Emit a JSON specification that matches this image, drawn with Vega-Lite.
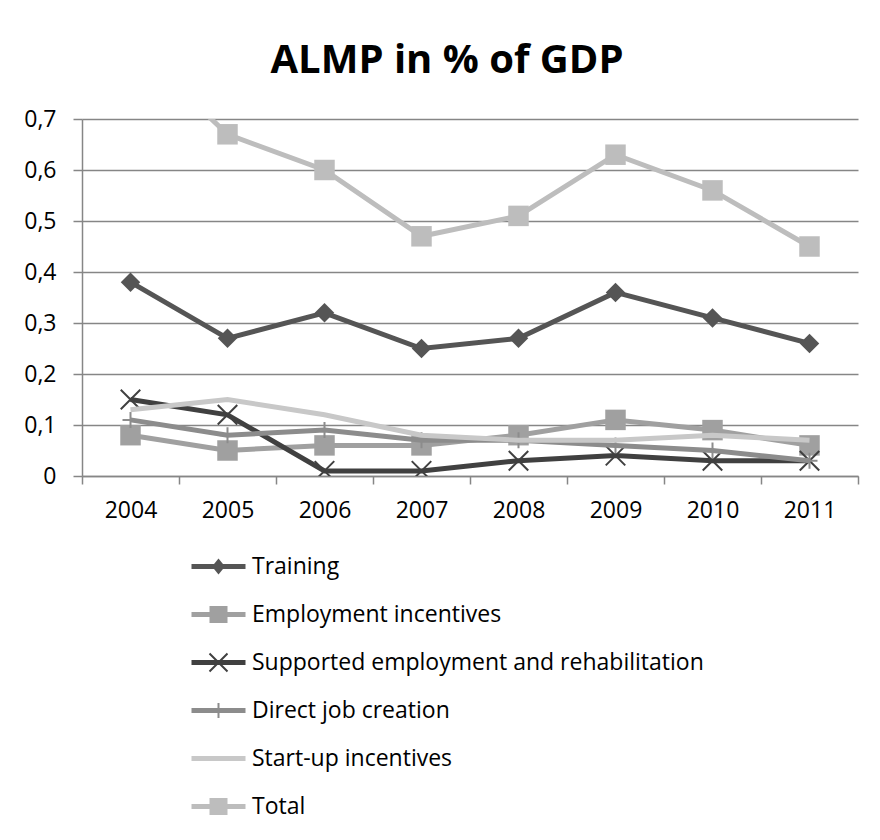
{
  "$schema": "https://vega.github.io/schema/vega-lite/v6.json",
  "width": 776,
  "height": 357,
  "autosize": {"type": "none"},
  "padding": {"left": 82, "top": 119, "right": 22, "bottom": 364},
  "background": "white",
  "title": {
    "text": "ALMP in % of GDP",
    "font": "Open Sans",
    "fontSize": 40,
    "fontWeight": "bold",
    "color": "black",
    "anchor": "middle",
    "baseline": "alphabetic",
    "offset": -5,
    "dx": -23
  },
  "data": {
    "values": [
      {"year": "2004", "series": "Training", "value": 0.38},
      {"year": "2005", "series": "Training", "value": 0.27},
      {"year": "2006", "series": "Training", "value": 0.32},
      {"year": "2007", "series": "Training", "value": 0.25},
      {"year": "2008", "series": "Training", "value": 0.27},
      {"year": "2009", "series": "Training", "value": 0.36},
      {"year": "2010", "series": "Training", "value": 0.31},
      {"year": "2011", "series": "Training", "value": 0.26},
      {"year": "2004", "series": "Employment incentives", "value": 0.08},
      {"year": "2005", "series": "Employment incentives", "value": 0.05},
      {"year": "2006", "series": "Employment incentives", "value": 0.06},
      {"year": "2007", "series": "Employment incentives", "value": 0.06},
      {"year": "2008", "series": "Employment incentives", "value": 0.08},
      {"year": "2009", "series": "Employment incentives", "value": 0.11},
      {"year": "2010", "series": "Employment incentives", "value": 0.09},
      {"year": "2011", "series": "Employment incentives", "value": 0.06},
      {"year": "2004", "series": "Supported employment and rehabilitation", "value": 0.15},
      {"year": "2005", "series": "Supported employment and rehabilitation", "value": 0.12},
      {"year": "2006", "series": "Supported employment and rehabilitation", "value": 0.01},
      {"year": "2007", "series": "Supported employment and rehabilitation", "value": 0.01},
      {"year": "2008", "series": "Supported employment and rehabilitation", "value": 0.03},
      {"year": "2009", "series": "Supported employment and rehabilitation", "value": 0.04},
      {"year": "2010", "series": "Supported employment and rehabilitation", "value": 0.03},
      {"year": "2011", "series": "Supported employment and rehabilitation", "value": 0.03},
      {"year": "2004", "series": "Direct job creation", "value": 0.11},
      {"year": "2005", "series": "Direct job creation", "value": 0.08},
      {"year": "2006", "series": "Direct job creation", "value": 0.09},
      {"year": "2007", "series": "Direct job creation", "value": 0.07},
      {"year": "2008", "series": "Direct job creation", "value": 0.07},
      {"year": "2009", "series": "Direct job creation", "value": 0.06},
      {"year": "2010", "series": "Direct job creation", "value": 0.05},
      {"year": "2011", "series": "Direct job creation", "value": 0.03},
      {"year": "2004", "series": "Start-up incentives", "value": 0.13},
      {"year": "2005", "series": "Start-up incentives", "value": 0.15},
      {"year": "2006", "series": "Start-up incentives", "value": 0.12},
      {"year": "2007", "series": "Start-up incentives", "value": 0.08},
      {"year": "2008", "series": "Start-up incentives", "value": 0.07},
      {"year": "2009", "series": "Start-up incentives", "value": 0.07},
      {"year": "2010", "series": "Start-up incentives", "value": 0.08},
      {"year": "2011", "series": "Start-up incentives", "value": 0.07},
      {"year": "2004", "series": "Total", "value": 0.85},
      {"year": "2005", "series": "Total", "value": 0.67},
      {"year": "2006", "series": "Total", "value": 0.60},
      {"year": "2007", "series": "Total", "value": 0.47},
      {"year": "2008", "series": "Total", "value": 0.51},
      {"year": "2009", "series": "Total", "value": 0.63},
      {"year": "2010", "series": "Total", "value": 0.56},
      {"year": "2011", "series": "Total", "value": 0.45}
    ]
  },
  "encoding": {
    "x": {
      "field": "year",
      "type": "ordinal",
      "scale": {"type": "band", "paddingInner": 0, "paddingOuter": 0},
      "axis": {
        "title": null,
        "tickBand": "extent",
        "labelAngle": 0,
        "grid": false,
        "domainColor": "#868686",
        "domainWidth": 1.5,
        "tickColor": "#868686",
        "tickWidth": 1.5,
        "tickSize": 8,
        "labelFont": "Open Sans",
        "labelFontSize": 23,
        "labelColor": "black",
        "labelPadding": 15
      }
    },
    "y": {
      "field": "value",
      "type": "quantitative",
      "scale": {"domain": [0, 0.7], "nice": false, "zero": true},
      "axis": {
        "title": null,
        "values": [0, 0.1, 0.2, 0.3, 0.4, 0.5, 0.6, 0.7],
        "labelExpr": "datum.value == 0 ? '0' : replace(format(datum.value, '.1f'), '.', ',')",
        "grid": true,
        "gridColor": "#868686",
        "gridWidth": 1.5,
        "domainColor": "#868686",
        "domainWidth": 1.5,
        "tickColor": "#868686",
        "tickWidth": 1.5,
        "tickSize": 9,
        "labelFont": "Open Sans",
        "labelFontSize": 23,
        "labelColor": "black",
        "labelPadding": 17
      }
    }
  },
  "layer": [
    {
      "transform": [{"filter": "datum.series == 'Training'"}],
      "mark": {"type": "line", "strokeWidth": 5, "color": "#555555", "clip": true}
    },
    {
      "transform": [{"filter": "datum.series == 'Training'"}],
      "mark": {"type": "point", "shape": "diamond", "filled": true, "size": 380, "color": "#555555", "opacity": 1, "clip": true}
    },
    {
      "transform": [{"filter": "datum.series == 'Employment incentives'"}],
      "mark": {"type": "line", "strokeWidth": 5, "color": "#a0a0a0", "clip": true}
    },
    {
      "transform": [{"filter": "datum.series == 'Employment incentives'"}],
      "mark": {"type": "point", "shape": "square", "filled": true, "size": 420, "color": "#a0a0a0", "opacity": 1, "clip": true}
    },
    {
      "transform": [{"filter": "datum.series == 'Supported employment and rehabilitation'"}],
      "mark": {"type": "line", "strokeWidth": 5, "color": "#404040", "clip": true}
    },
    {
      "transform": [{"filter": "datum.series == 'Supported employment and rehabilitation'"}],
      "mark": {"type": "point", "shape": "M-1,-1L1,1M-1,1L1,-1", "filled": false, "size": 380, "strokeWidth": 2, "color": "#404040", "opacity": 1, "clip": true}
    },
    {
      "transform": [{"filter": "datum.series == 'Direct job creation'"}],
      "mark": {"type": "line", "strokeWidth": 5, "color": "#8c8c8c", "clip": true}
    },
    {
      "transform": [{"filter": "datum.series == 'Direct job creation'"}],
      "mark": {"type": "point", "shape": "M0,-1L0,1M-1,0L1,0", "filled": false, "size": 256, "strokeWidth": 2, "color": "#8c8c8c", "opacity": 1, "clip": true}
    },
    {
      "transform": [{"filter": "datum.series == 'Start-up incentives'"}],
      "mark": {"type": "line", "strokeWidth": 5, "color": "#c8c8c8", "clip": true}
    },
    {
      "transform": [{"filter": "datum.series == 'Total'"}],
      "mark": {"type": "line", "strokeWidth": 5, "color": "#bdbdbd", "clip": true}
    },
    {
      "transform": [{"filter": "datum.series == 'Total'"}],
      "mark": {"type": "point", "shape": "square", "filled": true, "size": 420, "color": "#bdbdbd", "opacity": 1, "clip": true}
    },
    {
      "mark": {"type": "point", "filled": true, "opacity": 0, "size": 1, "clip": true},
      "encoding": {
        "color": {
          "field": "series",
          "type": "nominal",
          "scale": {
            "domain": ["Training", "Employment incentives", "Supported employment and rehabilitation", "Direct job creation", "Start-up incentives", "Total"],
            "range": ["#555555", "#a0a0a0", "#404040", "#8c8c8c", "#c8c8c8", "#bdbdbd"]
          },
          "legend": {
            "title": null,
            "orient": "none",
            "legendX": 125,
            "legendY": 436,
            "direction": "vertical",
            "labelFont": "Open Sans",
            "labelFontSize": 23,
            "labelColor": "black",
            "labelOffset": 22,
            "rowPadding": 24,
            "symbolSize": 100,
            "symbolStrokeWidth": 0,
            "symbolOpacity": 1,
            "labelLimit": 600
          }
        },
        "shape": {
          "field": "series",
          "type": "nominal",
          "scale": {
            "domain": ["Training", "Employment incentives", "Supported employment and rehabilitation", "Direct job creation", "Start-up incentives", "Total"],
            "range": [
              "M-5.4,-0.5H5.4V0.5H-5.4Z M0,-1.6L1.3,0L0,1.6L-1.3,0Z",
              "M-5.4,-0.5H5.4V0.5H-5.4Z M-1.8,-1.7H1.8V1.7H-1.8Z",
              "M-5.4,-0.5H5.4V0.5H-5.4Z M-1.66,-1.94L1.94,1.66L1.66,1.94L-1.94,-1.66Z M-1.94,1.66L1.66,-1.94L1.94,-1.66L-1.66,1.94Z",
              "M-5.4,-0.5H5.4V0.5H-5.4Z M-0.2,-1.5H0.2V1.5H-0.2Z",
              "M-5.4,-0.5H5.4V0.5H-5.4Z",
              "M-5.4,-0.5H5.4V0.5H-5.4Z M-1.8,-1.7H1.8V1.7H-1.8Z"
            ]
          },
          "legend": {
            "title": null,
            "orient": "none",
            "legendX": 125,
            "legendY": 436,
            "direction": "vertical",
            "labelFont": "Open Sans",
            "labelFontSize": 23,
            "labelColor": "black",
            "labelOffset": 22,
            "rowPadding": 24,
            "symbolSize": 100,
            "symbolStrokeWidth": 0,
            "symbolOpacity": 1,
            "labelLimit": 600
          }
        }
      }
    }
  ],
  "config": {
    "view": {"stroke": null},
    "axis": {"labelFlush": false}
  }
}
